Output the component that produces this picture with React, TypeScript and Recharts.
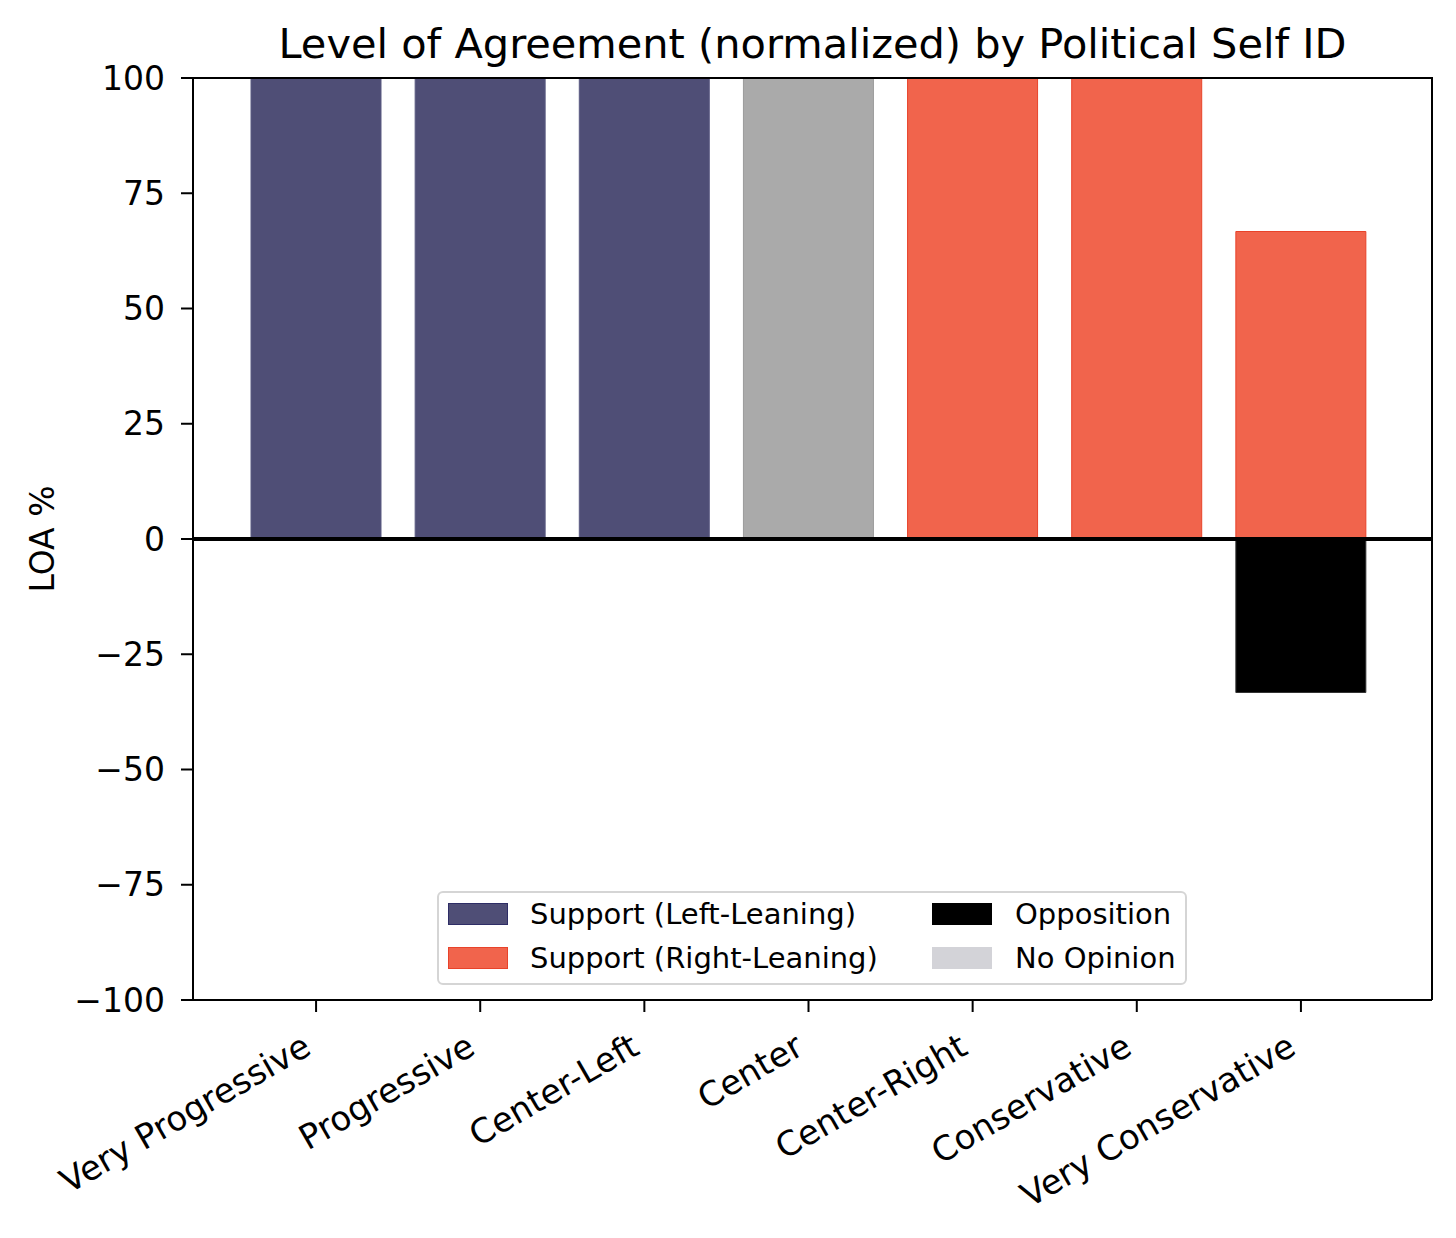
import React from 'react';
import { BarChart, Bar, XAxis, YAxis, ReferenceLine } from 'recharts';

const categories = [
  'Very Progressive',
  'Progressive',
  'Center-Left',
  'Center',
  'Center-Right',
  'Conservative',
  'Very Conservative',
];
const supportLeft = [100, 100, 100, 0, 0, 0, 0];
const supportCenter = [0, 0, 0, 100, 0, 0, 0];
const supportRight = [0, 0, 0, 0, 100, 100, 66.7];
const opposition = [0, 0, 0, 0, 0, 0, -33.3];
const noOpinion = [0, 0, 0, 0, 0, 0, 0];
const yTicks = [-100, -75, -50, -25, 0, 25, 50, 75, 100];

const legendItems = [
  { label: 'Support (Left-Leaning)', fill: '#4f4e76', stroke: '#2e2d66' },
  { label: 'Support (Right-Leaning)', fill: '#f1644c', stroke: '#e8432a' },
  { label: 'Opposition', fill: '#000000', stroke: '#000000' },
  { label: 'No Opinion', fill: '#d3d3d8', stroke: '#d3d3d8' },
];

const data = categories.map((name, i) => ({
  name,
  left: supportLeft[i],
  center: supportCenter[i],
  right: supportRight[i],
  opp: opposition[i],
  none: noOpinion[i],
}));

const FONT = '"DejaVu Sans", sans-serif';

const fmtY = (v: number) => (v < 0 ? '\u2212' + Math.abs(v) : String(v));

// matplotlib-like rotated label: right edge at the tick, hanging below it
const XTick = (props: any) => {
  const { x, y, payload } = props;
  const tx = x - 3;
  const ty = y + 41;
  return (
    <text
      x={tx}
      y={ty}
      transform={`rotate(-30 ${tx} ${ty})`}
      textAnchor="end"
      fontSize={34}
      fontFamily={FONT}
      fill="#000"
    >
      {payload.value}
    </text>
  );
};

const App = () => {
  return (
    <div style={{ position: 'relative', width: 1448, height: 1230, fontFamily: FONT }}>
      <BarChart
        width={1448}
        height={1230}
        data={data}
        stackOffset="sign"
        barSize={130}
        margin={{ top: 70, right: 24, bottom: 38, left: 95 }}
      >
        <XAxis
          dataKey="name"
          height={200}
          padding={{ left: 41, right: 49 }}
          interval={0}
          tickSize={12}
          tickMargin={0}
          axisLine={{ stroke: '#000', strokeWidth: 2 }}
          tickLine={{ stroke: '#000', strokeWidth: 2 }}
          tick={<XTick />}
        />
        <YAxis
          width={90}
          domain={[-100, 100]}
          ticks={yTicks}
          tickFormatter={fmtY}
          tickSize={12}
          tickMargin={16}
          axisLine={{ stroke: '#000', strokeWidth: 2 }}
          tickLine={{ stroke: '#000', strokeWidth: 2 }}
          tick={{ fill: '#000', fontSize: 33, fontFamily: FONT }}
        />
        <Bar dataKey="left" stackId="a" fill="#4f4e76" stroke="#5b5a82" strokeWidth={1} isAnimationActive={false} />
        <Bar dataKey="center" stackId="a" fill="#aaaaaa" stroke="#9a9a9a" strokeWidth={1} isAnimationActive={false} />
        <Bar dataKey="right" stackId="a" fill="#f1644c" stroke="#e8432a" strokeWidth={1} isAnimationActive={false} />
        <Bar dataKey="opp" stackId="a" fill="#000000" stroke="#333" strokeWidth={1} isAnimationActive={false} />
        <Bar dataKey="none" stackId="a" fill="#d3d3d8" isAnimationActive={false} />
        <ReferenceLine y={0} stroke="#000" strokeWidth={4} />
      </BarChart>

      {/* top and right spines */}
      <div
        style={{
          position: 'absolute',
          left: 185,
          top: 69,
          width: 1240,
          height: 923,
          boxSizing: 'border-box',
          borderTop: '2px solid #000',
          borderRight: '2px solid #000',
          pointerEvents: 'none',
        }}
      />

      <div
        style={{
          position: 'absolute',
          left: 185,
          width: 1239,
          top: 11,
          textAlign: 'center',
          fontSize: 41.5,
          color: '#000',
          whiteSpace: 'nowrap',
        }}
      >
        Level of Agreement (normalized) by Political Self ID
      </div>

      <div
        style={{
          position: 'absolute',
          left: 34,
          top: 531,
          transform: 'translate(-50%, -50%) rotate(-90deg)',
          fontSize: 33,
          whiteSpace: 'nowrap',
          color: '#000',
        }}
      >
        LOA %
      </div>

      <div
        style={{
          position: 'absolute',
          left: 429,
          top: 883,
          width: 750,
          height: 94,
          boxSizing: 'border-box',
          border: '2px solid #d5d5d5',
          borderRadius: 6,
          background: 'rgba(255,255,255,0.8)',
        }}
      >
        {legendItems.map((item, i) => {
          const col = i < 2 ? 0 : 1;
          const row = i % 2;
          const px = col === 0 ? 9 : 493;
          const tx = col === 0 ? 91 : 576;
          const py = row === 0 ? 10 : 54;
          return (
            <React.Fragment key={item.label}>
              <div
                style={{
                  position: 'absolute',
                  left: px,
                  top: py,
                  width: 60,
                  height: 22,
                  boxSizing: 'border-box',
                  background: item.fill,
                  border: `1px solid ${item.stroke}`,
                }}
              />
              <div
                style={{
                  position: 'absolute',
                  left: tx,
                  top: py - 7,
                  fontSize: 29,
                  lineHeight: '36px',
                  whiteSpace: 'nowrap',
                  color: '#000',
                }}
              >
                {item.label}
              </div>
            </React.Fragment>
          );
        })}
      </div>
    </div>
  );
};

export default App;
